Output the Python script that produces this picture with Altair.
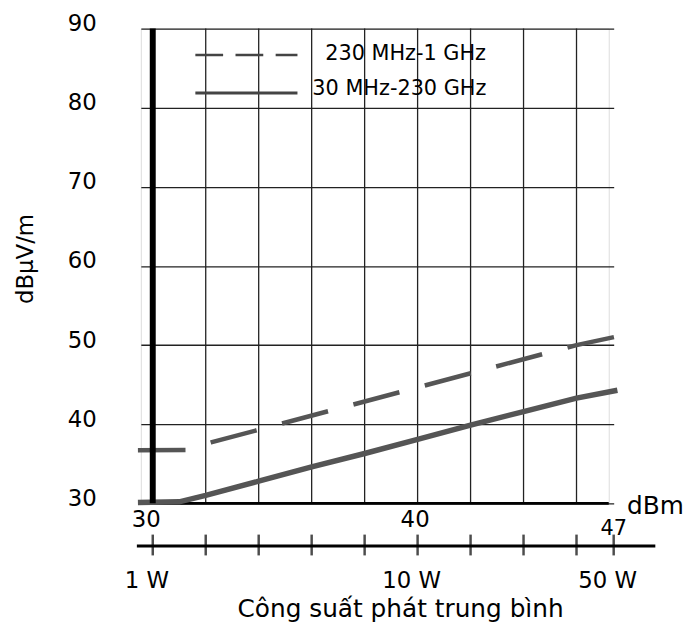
import altair as alt
import pandas as pd

# ---------------- data ----------------
series_names = ["230 MHz-1 GHz", "30 MHz-230 GHz"]

# 30 MHz-230 GHz (solid)
solid_dbm = [29.44, 31.0, 32.0, 34.0, 36.0, 38.0, 40.0, 42.0, 44.0, 46.0, 47.1]
solid_val = [30.1, 30.2, 31.0, 32.8, 34.6, 36.3, 38.1, 39.9, 41.6, 43.3, 44.3]

# 230 MHz-1 GHz (dashed)
dash_dbm = [29.44, 31.25, 32.2, 46.0, 47.1]
dash_val = [36.7, 36.75, 37.7, 50.0, 51.1]

y_ticks = [30, 40, 50, 60, 70, 80, 90]
x_grid = [32, 34, 36, 38, 40, 42, 44, 46]
x_labels = [30, 40]
lower_ticks = [30, 32, 34, 36, 38, 40, 42, 44, 46, 47]
power_dbm = [30, 40, 47]
power_labels = ["1 W", "10 W", "50 W"]
end_dbm = [47]
end_label = ["47"]

FONT = "DejaVu Sans"
W, H = 472, 479

xs = alt.Scale(domain=[29.55, 46, 47], range=[0, 439.5, 477], nice=False, zero=False)
ys = alt.Scale(domain=[30, 90], nice=False, zero=False)

x_axis = alt.Axis(
    values=x_labels, grid=False, ticks=False, domain=False,
    labelFontSize=23, labelPadding=5, labelColor="black", labelFont=FONT,
    labelOffset={"condition": {"test": "datum.value === 30", "value": -7}, "value": -3},
    title="dBm", titleFontSize=25, titleFontWeight="normal", titleFont=FONT,
    titleColor="black", titleX=490, titleY=2, titleAlign="left", titleBaseline="middle",
)
y_axis = alt.Axis(
    values=y_ticks, grid=True, gridColor="#222", gridWidth=1.3, ticks=False, domain=False,
    labelFontSize=23, labelPadding=45, labelColor="black", labelFont=FONT, labelOffset=-5,
    title="dBμV/m", titleFontSize=23, titleFontWeight="normal", titleFont=FONT,
    titleColor="black", titleX=-116, titleY=232, titleAngle=270,
    titleAlign="center", titleBaseline="middle",
)


def X(field="x"):
    return alt.X(f"{field}:Q", scale=xs, axis=x_axis)


def Y(field="y"):
    return alt.Y(f"{field}:Q", scale=ys, axis=y_axis)


solid_df = pd.DataFrame({"x": solid_dbm, "y": solid_val})
dash_df = pd.DataFrame({"x": dash_dbm, "y": dash_val})

solid = alt.Chart(solid_df).mark_line(
    color="#555", strokeWidth=5.5, strokeCap="butt"
).encode(x=X(), y=Y())

dashed = alt.Chart(dash_df).mark_line(
    color="#555", strokeWidth=4.5, strokeCap="butt", strokeDash=[48, 26.5]
).encode(x=X(), y=Y())

vgrid = alt.Chart(pd.DataFrame({"x": x_grid})).mark_rule(
    color="#222", strokeWidth=1.3
).encode(x=X())

thick_v = alt.Chart(pd.DataFrame({"x": [30]})).mark_rule(
    color="black", strokeWidth=6
).encode(x=X())

thick_h = alt.Chart(pd.DataFrame({"x": [30], "y": [30]})).mark_rule(
    color="black", strokeWidth=3
).encode(x=X(), y=Y(), x2=alt.value(W))

# lower power axis
lower_line = alt.Chart(pd.DataFrame({"x": [30]})).mark_rule(
    color="black", strokeWidth=3
).encode(x=alt.value(-4), x2=alt.value(519), y=alt.value(522))

lower_tick = alt.Chart(pd.DataFrame({"x": lower_ticks})).mark_tick(
    color="black", size=21, thickness=2.5
).encode(x=X(), y=alt.value(521))

power_text = alt.Chart(pd.DataFrame({"x": power_dbm, "label": power_labels})).mark_text(
    fontSize=23, font=FONT, color="black", baseline="middle", align="center", dx=-6
).encode(x=X(), y=alt.value(557), text="label:N")

end_text = alt.Chart(pd.DataFrame({"x": end_dbm, "label": end_label})).mark_text(
    fontSize=21, font=FONT, color="black", baseline="middle", align="center"
).encode(x=X(), y=alt.value(505), text="label:N")

bottom_title = alt.Chart(pd.DataFrame({"x": [30]})).mark_text(
    text="Công suất phát trung bình", fontSize=25, font=FONT, color="black",
    align="center", baseline="alphabetic"
).encode(x=alt.value(262), y=alt.value(594))

# legend
leg_dash = alt.Chart(pd.DataFrame({"x": [30]})).mark_rule(
    color="#444", strokeWidth=2.5, strokeDash=[28, 12.5], strokeCap="butt"
).encode(x=alt.value(55), x2=alt.value(158), y=alt.value(26.7))
leg_solid = alt.Chart(pd.DataFrame({"x": [30]})).mark_rule(
    color="#444", strokeWidth=3, strokeCap="butt"
).encode(x=alt.value(55), x2=alt.value(158), y=alt.value(65))
leg_t1 = alt.Chart(pd.DataFrame({"x": [30]})).mark_text(
    text=series_names[0], fontSize=21, font=FONT, color="black", align="left", baseline="middle"
).encode(x=alt.value(186), y=alt.value(25.7))
leg_t2 = alt.Chart(pd.DataFrame({"x": [30]})).mark_text(
    text=series_names[1], fontSize=21, font=FONT, color="black", align="left", baseline="middle"
).encode(x=alt.value(173), y=alt.value(61))

chart = alt.layer(
    vgrid, thick_h, solid, dashed, thick_v,
    lower_line, lower_tick, power_text, end_text, bottom_title,
    leg_dash, leg_solid, leg_t1, leg_t2,
).properties(
    width=W, height=H,
    autosize=alt.AutoSizeParams(type="none"),
    padding={"left": 134, "top": 18, "right": 84, "bottom": 122},
).configure_view(
    stroke="black", strokeWidth=1.5
).configure(background="white")

chart.save("out.html", embed_options={"renderer": "svg", "actions": False})
